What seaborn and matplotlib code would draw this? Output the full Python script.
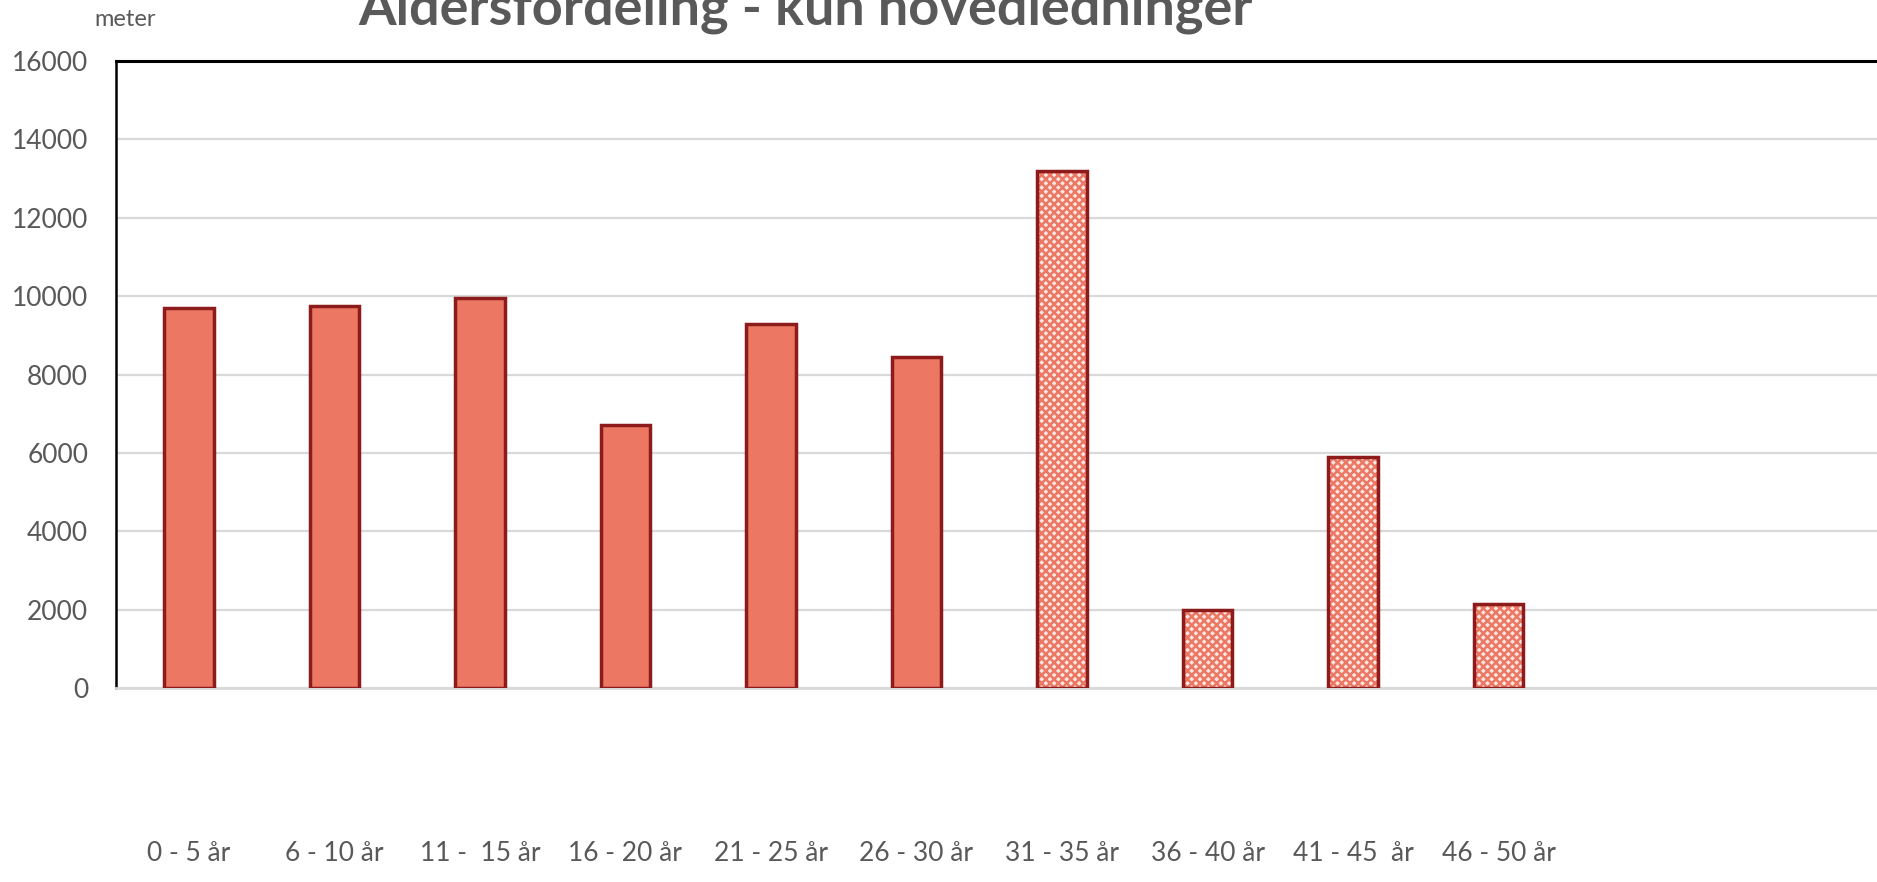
import matplotlib
matplotlib.use('Agg')
import matplotlib.pyplot as plt
import seaborn as sns
import pandas as pd

# data
aldersgrupper = ["0 - 5 år", "6 - 10 år", "11 -  15 år", "16 - 20 år", "21 - 25 år",
                 "26 - 30 år", "31 - 35 år", "36 - 40 år", "41 - 45  år", "46 - 50 år"]
meter = [9700, 9750, 9950, 6700, 9300, 8450, 13200, 2000, 5900, 2150]
y_ticks = [0, 2000, 4000, 6000, 8000, 10000, 12000, 14000, 16000]

# the last four groups are drawn with a checkered fill
skravert = [False] * 6 + [True] * 4

sns.set_theme(style='white')
plt.rcParams['font.family'] = ['Lato', 'DejaVu Sans']
plt.rcParams['hatch.linewidth'] = 1.8
plt.rcParams['hatch.color'] = '#EC7763'

GREY = '#595959'

fig = plt.figure(figsize=(18.77, 8.82), dpi=100)
ax = fig.add_axes([116 / 1877, 1 - 688 / 882, 1 - 116 / 1877, (688 - 61) / 882])

df = pd.DataFrame({'alder': aldersgrupper, 'meter': meter})

# filled bars
sns.barplot(data=df, x='alder', y='meter', color='#EC7763', saturation=1,
            width=0.34, linewidth=0, ax=ax, zorder=2)
for patch, sk in zip(ax.patches, skravert):
    if sk:
        patch.set_facecolor('#FDE6E1')
        patch.set_edgecolor('#EC7763')
        patch.set_hatch('xxxx')
        patch.set_linewidth(0)

# dark red outline on top
sns.barplot(data=df, x='alder', y='meter', color='#8E1B1B', fill=False,
            width=0.34, linewidth=2.5, ax=ax, zorder=3)

ax.set_xlim(-0.5, 11.6)
ax.set_ylim(0, 16000)
ax.set_yticks(y_ticks)
ax.set_yticklabels([str(v) for v in y_ticks])
ax.set_xlabel('')
ax.set_ylabel('')

ax.yaxis.grid(True, color='#D9D9D9', linewidth=1.6)
ax.set_axisbelow(True)

ax.spines['right'].set_visible(False)
ax.spines['left'].set_color('black')
ax.spines['left'].set_linewidth(1.8)
ax.spines['top'].set_color('black')
ax.spines['top'].set_linewidth(2.2)
ax.spines['bottom'].set_color('#D9D9D9')
ax.spines['bottom'].set_linewidth(2)

ax.tick_params(axis='y', length=0, pad=20, labelsize=19, labelcolor=GREY)
ax.tick_params(axis='x', length=0, pad=110, labelsize=19, labelcolor=GREY)

fig.text(806 / 1877, 1 - 24 / 882, 'Aldersfordeling - kun hovedledninger',
         ha='center', va='baseline', fontsize=39, fontweight='bold', color=GREY)
fig.text(125 / 1877, 1 - 20 / 882, 'meter', ha='center', va='center',
         fontsize=17, color=GREY)

fig.savefig('out.png', dpi=100)
